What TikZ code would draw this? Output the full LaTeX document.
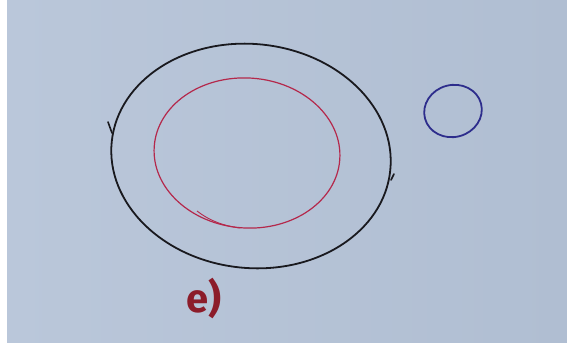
\documentclass[tikz,border=0pt]{standalone}
\usepackage{fontspec}
\setsansfont{Fira Sans}
\definecolor{paper}{RGB}{186,199,218}
\definecolor{paperdark}{RGB}{176,190,210}
\definecolor{penblack}{RGB}{25,25,30}
\definecolor{penred}{RGB}{180,40,75}
\definecolor{penblue}{RGB}{45,45,140}
\definecolor{labelred}{RGB}{140,28,42}
\begin{document}
\begin{tikzpicture}[x=1pt,y=-1pt,
  outerring/.style={draw=penblack,line width=1.8pt},
  innerring/.style={draw=penred,line width=1.2pt},
  smallring/.style={draw=penblue,line width=1.8pt},
  barb/.style={draw=penblack,line width=1.6pt,line cap=round},
  lbl/.style={text=labelred,font=\sffamily\bfseries\fontsize{40}{40}\selectfont,inner sep=0pt}]
\useasboundingbox (0,0) rectangle (567,351);
\fill[white] (0,0) rectangle (567,351);
\shade[left color=paper,right color=paperdark] (7,0) rectangle (567,342);
% outer black ring
\draw[outerring,rotate around={-6:(251,156)}] (251,156) ellipse [x radius=140, y radius=112];
\coordinate (lb) at (112,133);
\coordinate (rb) at (391,180);
\draw[barb] (lb) -- (108,122);
\draw[barb] (rb) -- (394,174);
% inner red ring
\draw[innerring,rotate around={-4:(247,153)}] (247,153) ellipse [x radius=93, y radius=75];
\draw[innerring,line width=0.9pt] (197,211) .. controls (210,221) and (224,226) .. (240,228);
% blue ring
\draw[smallring,rotate around={15:(453,111)}] (453,111) ellipse [x radius=29, y radius=26];
% label
\node[lbl] (label) at (204,298) {e)};
\end{tikzpicture}
\end{document}
